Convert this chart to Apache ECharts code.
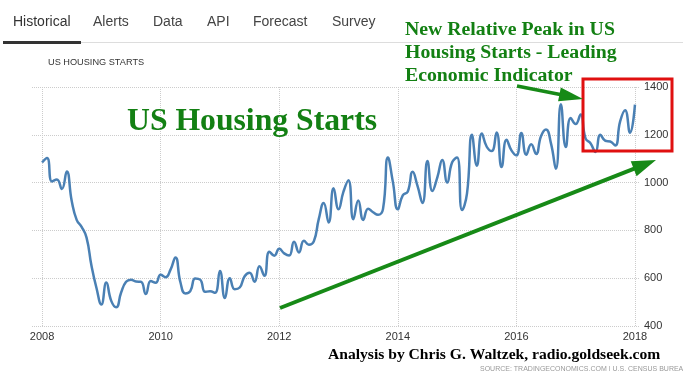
<!DOCTYPE html>
<html><head><meta charset="utf-8">
<script src="https://cdn.jsdelivr.net/npm/echarts@6/dist/echarts.min.js"></script>
<style>html,body{margin:0;padding:0;background:#fff}#c{width:683px;height:371px}</style>
</head><body><div id="c"></div>
<script>
// ---- data (US housing starts, thousands, SAAR, monthly) ----
const startYear = 2008;
const starts2008 = [1084,1103,1005,1013,973,1046,923,844,815,770,652,560];
const starts2009 = [490,582,505,478,540,585,594,586,585,534,588,581];
const starts2010 = [614,604,636,687,583,536,546,599,594,543,545,539];
const starts2011 = [630,517,600,554,561,608,623,585,650,610,711,694];
const starts2012 = [723,704,695,753,708,757,740,754,847,915,833,976];
const starts2013 = [888,962,1010,847,925,844,891,876,865,889,1105,1003];
const starts2014 = [888,947,962,1045,985,915,1090,965,1022,1095,1000,1085];
const starts2015 = [1105,885,954,1200,1071,1205,1150,1132,1210,1065,1179,1135];
const starts2016 = [1114,1208,1117,1160,1120,1195,1222,1164,1058,1328,1149,1270];
const starts2017 = [1245,1285,1185,1165,1128,1200,1175,1172,1155,1256,1303,1209];
const starts2018 = [1326];
const housingStarts = [].concat(starts2008,starts2009,starts2010,starts2011,starts2012,
  starts2013,starts2014,starts2015,starts2016,starts2017,starts2018);
const yTicks = [400,600,800,1000,1200,1400];
const tabs = ['Historical','Alerts','Data','API','Forecast','Survey'];
const chartLabel = 'US HOUSING STARTS';
const bigTitle = 'US Housing Starts';
const noteText = 'New Relative Peak in US\nHousing Starts - Leading\nEconomic Indicator';
const credit = 'Analysis by Chris G. Waltzek, radio.goldseek.com';
const source = 'SOURCE: TRADINGECONOMICS.COM | U.S. CENSUS BUREAU';

const seriesData = housingStarts.map((v,i)=>[startYear + i/12, v]);

const GREEN = '#178a17';
function arrow(x1,y1,x2,y2,w,hl,hw){
  const dx=x2-x1, dy=y2-y1, L=Math.sqrt(dx*dx+dy*dy), ux=dx/L, uy=dy/L;
  const bx=x2-ux*hl, by=y2-uy*hl, px=-uy, py=ux;
  return [
    {type:'line', z:100, shape:{x1:x1,y1:y1,x2:bx+ux*2,y2:by+uy*2}, style:{stroke:GREEN,lineWidth:w}},
    {type:'polygon', z:100, shape:{points:[[x2,y2],[bx+px*hw/2,by+py*hw/2],[bx-px*hw/2,by-py*hw/2]]}, style:{fill:GREEN}}
  ];
}
const tabX = [13,93,153,207,253,332];
const graphics = [];
tabs.forEach((t,i)=>graphics.push({type:'text', x:tabX[i], y:22, z:100,
  style:{text:t, fill: i===0?'#333':'#444', font:'14px "Liberation Sans", Arial', verticalAlign:'middle'}}));
graphics.push({type:'rect', z:100, shape:{x:3,y:41,width:78,height:3}, style:{fill:'#333'}});
graphics.push({type:'line', z:100, shape:{x1:81,y1:42.5,x2:683,y2:42.5}, style:{stroke:'#ddd',lineWidth:1}});
graphics.push({type:'text', x:48, y:62, z:100, style:{text:chartLabel, fill:'#333', font:'9.2px "Liberation Sans", Arial', verticalAlign:'middle'}});
graphics.push({type:'text', x:127, y:122, z:100, style:{text:bigTitle, fill:'#138013', font:'bold 31.7px "Liberation Serif", "Times New Roman", serif', verticalAlign:'middle'}});
graphics.push({type:'text', x:405, y:18.5, z:100, style:{text:noteText, fill:'#138013', lineHeight:23, font:'bold 19.8px "Liberation Serif", "Times New Roman", serif', verticalAlign:'top'}});
graphics.push({type:'rect', z:100, shape:{x:583,y:79,width:89,height:72}, style:{fill:'none', stroke:'#e01010', lineWidth:3}});
arrow(517,86,583,99,3.5,24,14).forEach(g=>graphics.push(g));
arrow(280,308,656,160,4,24,16).forEach(g=>graphics.push(g));
graphics.push({type:'text', x:328, y:355, z:100, style:{text:credit, fill:'#000', font:'bold 15.6px "Liberation Serif", "Times New Roman", serif', verticalAlign:'middle'}});
graphics.push({type:'text', x:480, y:366, z:100, style:{text:source, fill:'#999', font:'7px "Liberation Sans", Arial', verticalAlign:'top'}});

const chart = echarts.init(document.getElementById('c'), null, {renderer:'canvas'});
chart.setOption({
  animation:false,
  backgroundColor:'#fff',
  grid:{left:32, right:43, top:87, bottom:45, containLabel:false},
  xAxis:{type:'value', min:2007.83, max:2018.085, splitNumber:5,
    axisLine:{show:false}, axisTick:{show:false},
    axisLabel:{show:true, showMinLabel:false, showMaxLabel:false, margin:5, color:'#333', fontSize:11,
      fontFamily:'"Liberation Sans", Arial', formatter:v=>Math.abs(v-Math.round(v))<1e-6?String(Math.round(v)):''},
    splitLine:{show:true, showMinLine:false, showMaxLine:false, lineStyle:{color:'#ccc', type:'dotted', width:1}}},
  yAxis:{type:'value', position:'right', min:yTicks[0], max:yTicks[yTicks.length-1], interval:200,
    axisLine:{show:false}, axisTick:{show:false},
    axisLabel:{margin:4, color:'#333', fontSize:11, fontFamily:'"Liberation Sans", Arial', align:'left', formatter:v=>String(v)},
    splitLine:{show:true, lineStyle:{color:'#ccc', type:'dotted', width:1}}},
  series:[{type:'line', data:seriesData, smooth:0.5, showSymbol:false, symbol:'none',
    lineStyle:{color:'#4a80b4', width:2.5}, z:5}],
  graphic:graphics
});
</script></body></html>
